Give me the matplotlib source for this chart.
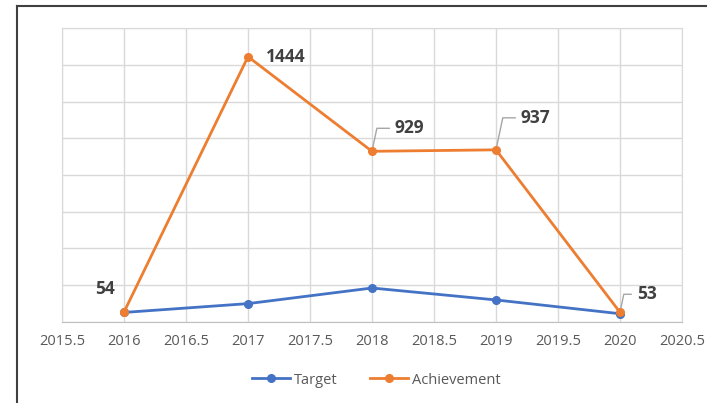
import matplotlib
matplotlib.use("Agg")
import matplotlib.pyplot as plt
from matplotlib.lines import Line2D

years = [2016, 2017, 2018, 2019, 2020]
target = [52, 100, 185, 120, 45]
achievement = [54, 1444, 929, 937, 53]

# label offsets in pixels (dx, dy) and whether a leader line is drawn
label_offsets = [(-19, 23), (18, 0), (23, 23), (25, 32), (17, 18)]
label_leader = [False, False, True, True, True]

blue = "#4472C4"
orange = "#ED7D31"
grid_col = "#D9D9D9"
tick_col = "#595959"

plt.rcParams["font.family"] = ["Open Sans", "DejaVu Sans"]

fig = plt.figure(figsize=(7.07, 4.03), dpi=100)
ax = fig.add_axes([0.0877, 0.201, 0.8769, 0.7295])

ax.plot(years, target, color=blue, lw=2, marker="o", ms=5.5, label="Target", zorder=3)
ax.plot(years, achievement, color=orange, lw=2, marker="o", ms=5.5, label="Achievement", zorder=4)

for x, y, (dx, dy), lead in zip(years, achievement, label_offsets, label_leader):
    if lead:
        ax.annotate(str(y), xy=(x, y), xytext=(dx, dy), textcoords="offset pixels",
                    ha="left", va="center", fontsize=12.5, fontweight="bold", color="#404040",
                    arrowprops=dict(arrowstyle="-", color="#A6A6A6", lw=1, shrinkA=2, shrinkB=3,
                                    relpos=(0, 0.5),
                                    connectionstyle="angle,angleA=0,angleB=78,rad=0"))
    else:
        ax.annotate(str(y), xy=(x, y), xytext=(dx, dy), textcoords="offset pixels",
                    ha="center" if dx < 0 else "left", va="center", fontsize=12.5,
                    fontweight="bold", color="#404040")

ax.set_xlim(2015.5, 2020.5)
ax.set_ylim(0, 1600)
ax.set_xticks([2015.5 + 0.5 * i for i in range(11)])
ax.set_xticklabels([f"{2015.5 + 0.5 * i:g}" for i in range(11)])
ax.set_yticks(range(0, 1601, 200))
ax.tick_params(axis="y", left=False, labelleft=False)
ax.tick_params(axis="x", length=0, pad=9, labelsize=10.5, colors=tick_col)
ax.grid(True, color=grid_col, lw=1)
ax.set_axisbelow(True)
for s in ax.spines.values():
    s.set_color(grid_col)
ax.spines["bottom"].set_color("#BFBFBF")

handles = [Line2D([], [], color=blue, lw=2, marker="o", ms=5.5),
           Line2D([], [], color=orange, lw=2, marker="o", ms=5.5)]
fig.legend(handles, ["Target", "Achievement"], loc="center", bbox_to_anchor=(0.532, 0.057),
           ncol=2, frameon=False, fontsize=10.5, handlelength=2.6, handletextpad=0.3,
           columnspacing=2.2, labelcolor=tick_col)

# outer frame (top and left edges visible in the crop)
fig.add_artist(Line2D([0.024, 0.024], [0, 0.985], color="#404040", lw=1.5, transform=fig.transFigure))
fig.add_artist(Line2D([0.024, 1], [0.985, 0.985], color="#404040", lw=1.5, transform=fig.transFigure))

fig.savefig("out.png", dpi=100)
